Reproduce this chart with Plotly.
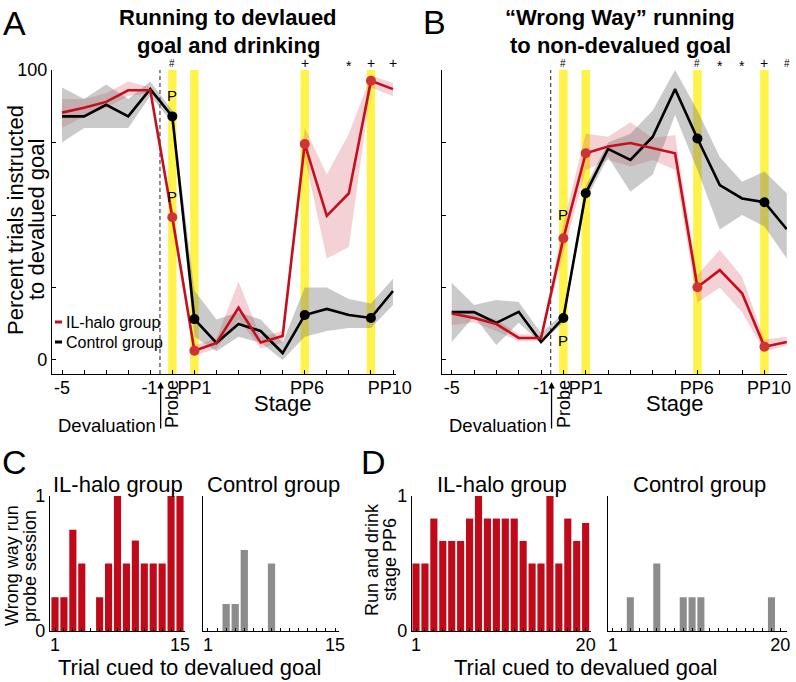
import plotly.graph_objects as go

W, H = 796, 682
FONT = "Liberation Sans, Arial, Helvetica, sans-serif"


def fx(px):
    return px / W


def fy(py):
    return 1 - py / H


# ---------------- data ----------------
stage_idx = list(range(16))          # -5..-1, Probe, PP1..PP10(+1)
highlight_idx = [5, 6, 11, 14]       # Probe, PP1, PP6, PP10 (yellow bars / dots)

# Panel A: running to devalued goal and drinking (percent)
a_ctrl = [84, 84, 88, 84, 93.4, 84, 14.1, 5.9, 12.4, 10, 2.4, 15.5, 17.6, 15.5, 14.5, 23.8]
a_ctrl_hi = [94, 90, 95, 90, 96, 86, 24, 14, 16.5, 14, 6, 25, 25, 21, 19.5, 28]
a_ctrl_lo = [75, 80, 80, 80, 91, 82, 8, 3, 8, 6, 0, 8, 10, 11, 11, 19]
a_il = [85.3, 87, 89, 93, 93, 49.2, 3.2, 5.9, 18, 6, 8.3, 74.5, 49.7, 57.5, 96.3, 93.4]
a_il_hi = [90, 90, 92, 96, 94, 52, 5, 7.5, 27, 8, 10, 80, 64, 78, 98, 95.5]
a_il_lo = [80, 84, 87, 91, 92, 46, 1.5, 4, 14, 4, 6, 70, 35, 39, 94, 91]

# Panel B: wrong way running to non-devalued goal (percent)
b_ctrl = [16.5, 16.5, 12.8, 16.6, 6.2, 14.5, 57.5, 72.8, 69, 77, 93.4, 76.4, 60.3, 55.7, 54.4, 45.1]
b_ctrl_hi = [26.6, 19, 20.7, 20, 9.3, 16, 60, 75, 78, 86, 100, 86, 70, 61.5, 65, 57.5]
b_ctrl_lo = [6.2, 15, 5.2, 12.8, 5.8, 13, 55, 70, 58, 64, 84.5, 65.5, 45, 50, 46, 35]
b_il = [16, 14.5, 12.4, 7.6, 7.6, 42, 71.3, 73.6, 74.8, 73, 71.3, 25.1, 31, 23, 4.6, 6.2]
b_il_hi = [17, 16, 14, 9, 8.5, 47, 78, 77, 82, 76.5, 77.6, 29.3, 38, 28.7, 7, 8]
b_il_lo = [12, 13, 10, 6.5, 6.5, 37, 65.5, 69, 66.7, 69, 65.5, 19.7, 25, 16.5, 3, 5]

# significance symbols above panels (stage index, symbol)
sig_a = [(5, "#"), (11, "+"), (13, "*"), (14, "+"), (15, "+")]
sig_b = [(5, "#"), (11, "#"), (12, "*"), (13, "*"), (14, "+"), (15, "#")]

# tick labels for stage axes
a_ticks = [(0, "-5"), (3.96, "-1"), (6, "PP1"), (11.1, "PP6"), (14.85, "PP10")]
b_ticks = [(0, "-5"), (4.0, "-1"), (6, "PP1"), (10.97, "PP6"), (14.2, "PP10")]

# Panel C: wrong way run, probe session (per trial)
c_trials = list(range(1, 16))
c_il = [0.25, 0.25, 0.75, 0.5, 0, 0.25, 0.5, 1, 0.5, 0.67, 0.5, 0.5, 0.5, 1, 1]
c_ctrl = [0, 0, 0.2, 0.2, 0.6, 0, 0, 0.5, 0, 0, 0, 0, 0, 0, 0]

# Panel D: run and drink, stage PP6 (per trial)
d_trials = list(range(1, 21))
d_il = [0.5, 0.5, 0.833, 0.667, 0.667, 0.667, 0.833, 1, 0.833, 0.833,
        0.833, 0.833, 0.667, 0.5, 0.5, 1, 0.5, 0.833, 0.667, 0.8]
d_ctrl = [0, 0, 0.25, 0, 0, 0.5, 0, 0, 0.25, 0.25, 0.25, 0, 0, 0, 0, 0, 0, 0, 0.25, 0]

# ---------------- style ----------------
RED = "#C4101E"
RED_DOT = "#CF3338"
PINK = "rgba(215, 90, 100, 0.28)"
GRAY = "rgba(115, 115, 115, 0.38)"
YELLOW = "rgba(255, 240, 40, 0.85)"
BAR_RED = "#C00A1A"
BAR_GRAY = "#8C8C8C"

fig = go.Figure()


def add_line_panel(xa, ya, ctrl, ctrl_hi, ctrl_lo, il, il_hi, il_lo):
    xs = stage_idx
    fig.add_trace(go.Scatter(x=xs + xs[::-1], y=il_hi + il_lo[::-1], fill="toself",
                             fillcolor=PINK, line=dict(width=0), mode="lines",
                             hoverinfo="skip", xaxis=xa, yaxis=ya))
    fig.add_trace(go.Scatter(x=xs + xs[::-1], y=ctrl_hi + ctrl_lo[::-1], fill="toself",
                             fillcolor=GRAY, line=dict(width=0), mode="lines",
                             hoverinfo="skip", xaxis=xa, yaxis=ya))
    fig.add_trace(go.Scatter(x=xs, y=ctrl, mode="lines", line=dict(color="black", width=2.6),
                             xaxis=xa, yaxis=ya, name="Control group"))
    fig.add_trace(go.Scatter(x=xs, y=il, mode="lines", line=dict(color=RED, width=2.6),
                             xaxis=xa, yaxis=ya, name="IL-halo group"))
    fig.add_trace(go.Scatter(x=[xs[i] for i in highlight_idx], y=[ctrl[i] for i in highlight_idx],
                             mode="markers", marker=dict(color="black", size=10),
                             xaxis=xa, yaxis=ya))
    fig.add_trace(go.Scatter(x=[xs[i] for i in highlight_idx], y=[il[i] for i in highlight_idx],
                             mode="markers", marker=dict(color=RED_DOT, size=10),
                             xaxis=xa, yaxis=ya))


add_line_panel("x", "y", a_ctrl, a_ctrl_hi, a_ctrl_lo, a_il, a_il_hi, a_il_lo)
add_line_panel("x2", "y2", b_ctrl, b_ctrl_hi, b_ctrl_lo, b_il, b_il_hi, b_il_lo)

fig.add_trace(go.Bar(x=c_trials, y=c_il, width=0.8, marker=dict(color=BAR_RED, line=dict(width=0)),
                     xaxis="x3", yaxis="y3"))
fig.add_trace(go.Bar(x=c_trials, y=c_ctrl, width=0.8, marker=dict(color=BAR_GRAY, line=dict(width=0)),
                     xaxis="x4", yaxis="y4"))
fig.add_trace(go.Bar(x=d_trials, y=d_il, width=0.8, marker=dict(color=BAR_RED, line=dict(width=0)),
                     xaxis="x5", yaxis="y5"))
fig.add_trace(go.Bar(x=d_trials, y=d_ctrl, width=0.8, marker=dict(color=BAR_GRAY, line=dict(width=0)),
                     xaxis="x6", yaxis="y6"))

# ---------------- axes ----------------
base = dict(showline=True, linecolor="black", linewidth=1.3, showgrid=False, zeroline=False,
            automargin=False, ticks="inside", tickcolor="black", tickwidth=1.2, ticklen=4,
            tickfont=dict(family=FONT, size=18, color="black"))


def stage_xaxis(domain, rng, anchor, ticks):
    d = dict(base)
    d.update(domain=domain, range=rng, anchor=anchor, tickmode="array",
             tickvals=[t[0] for t in ticks], ticktext=[t[1] for t in ticks], ticklen=0,
             ticklabelstandoff=-3,
             minor=dict(tickmode="array", tickvals=stage_idx, ticks="inside", ticklen=4,
                        tickcolor="black", tickwidth=1.2, showgrid=False))
    return d


def pct_yaxis(anchor, labels):
    d = dict(base)
    d.update(domain=[fy(374), fy(70)], range=[-4.83, 100], anchor=anchor, tickmode="array",
             tickvals=[0, 25, 50, 75, 100],
             ticktext=["0", "", "", "", "100"] if labels else [""] * 5)
    return d


def trial_xaxis(domain, rng, anchor, n):
    d = dict(base)
    d.update(domain=domain, range=rng, anchor=anchor, tickmode="array",
             tickvals=list(range(1, n + 1)), ticklabelstandoff=-3,
             ticktext=["1"] + [""] * (n - 2) + [str(n)], ticklen=3)
    return d


def frac_yaxis(anchor, labels):
    d = dict(base)
    d.update(domain=[fy(631), fy(496)], range=[0, 1], anchor=anchor, tickmode="array",
             tickvals=[0, 1], ticktext=["0", "1"] if labels else ["", ""], ticklen=3)
    return d


fig.update_layout(
    template="none",
    xaxis=stage_xaxis([fx(52), fx(396)], [-0.453, 15.136], "y", a_ticks),
    yaxis=pct_yaxis("x", True),
    xaxis2=stage_xaxis([fx(442), fx(787)], [-0.434, 15.01], "y2", b_ticks),
    yaxis2=pct_yaxis("x2", False),
    xaxis3=trial_xaxis([fx(50), fx(185)], [0.44, 15.56], "y3", 15),
    yaxis3=frac_yaxis("x3", True),
    xaxis4=trial_xaxis([fx(203), fx(339)], [0.45, 15.44], "y4", 15),
    yaxis4=frac_yaxis("x4", False),
    xaxis5=trial_xaxis([fx(412), fx(591)], [0.55, 20.6], "y5", 20),
    yaxis5=frac_yaxis("x5", True),
    xaxis6=trial_xaxis([fx(608), fx(787)], [0.47, 20.76], "y6", 20),
    yaxis6=frac_yaxis("x6", False),
)

# ---------------- shapes ----------------
shapes = []
for xa, ya_dom, dash_x in (("x", "y domain", 4.44), ("x2", "y2 domain", 4.43)):
    for i in highlight_idx:
        shapes.append(dict(type="rect", xref=xa, yref=ya_dom, x0=i - 0.19, x1=i + 0.19,
                           y0=0, y1=1, fillcolor=YELLOW, line=dict(width=0), layer="below"))
    shapes.append(dict(type="line", xref=xa, yref=ya_dom, x0=dash_x, x1=dash_x, y0=0, y1=1,
                       line=dict(color="#444444", width=1.2, dash="4px,3px"), layer="below"))
# legend swatches
shapes.append(dict(type="line", xref="paper", yref="paper", x0=fx(55), x1=fx(62), y0=fy(322), y1=fy(322),
                   line=dict(color=RED, width=3)))
shapes.append(dict(type="line", xref="paper", yref="paper", x0=fx(55), x1=fx(62), y0=fy(342), y1=fy(342),
                   line=dict(color="black", width=3)))
fig.update_layout(shapes=shapes)

# ---------------- annotations ----------------
ann = []


def txt(x, y, s, size, bold=False, angle=0, xanchor="center", xref="paper", yshift=0):
    ann.append(dict(x=x, y=y, xref=xref, yref="paper", text=("<b>%s</b>" % s) if bold else s,
                    showarrow=False, textangle=angle, xanchor=xanchor, yanchor="middle",
                    yshift=yshift, font=dict(family=FONT, size=size, color="black")))


# panel letters
txt(fx(14), fy(23), "A", 34)
txt(fx(434), fy(22), "B", 34)
txt(fx(14), fy(462), "C", 34)
txt(fx(373), fy(462), "D", 34)

# titles
txt(fx(228), fy(18), "Running to devlaued", 22, bold=True)
txt(fx(228), fy(46), "goal and drinking", 22, bold=True)
txt(fx(620), fy(18), "\u201cWrong Way\u201d running", 22, bold=True)
txt(fx(620), fy(46), "to non-devalued goal", 22, bold=True)

# y title panel A
txt(fx(16), fy(220), "Percent trials instructed", 22, angle=-90)
txt(fx(37), fy(220), "to devalued goal", 22, angle=-90)

# x titles and probe/devaluation labels
for sx, px_probe, px_dev in ((283, 172, 158), (675, 564, 549)):
    txt(fx(sx), fy(403), "Stage", 22)
    txt(fx(px_probe), fy(404), "Probe", 18, angle=-90)
    txt(fx(px_dev), fy(425), "Devaluation", 18.5, xanchor="right")

# devaluation arrows
for xa in ("x", "x2"):
    ann.append(dict(x=4.47, xref=xa, y=fy(382), yref="paper", text="", showarrow=True,
                    ax=0, ay=48, arrowhead=2, arrowsize=1, arrowwidth=1.3, arrowcolor="black"))

# significance symbols
for xa, sig in (("x", sig_a), ("x2", sig_b)):
    for i, s in sig:
        size = 10 if s == "#" else 14
        txt(i, fy(63), s, size, xref=xa, yshift=(-3 if s == "*" else 0))

# probe "P" labels
txt(5, fy(96), "P", 15, xref="x")
txt(5, fy(197), "P", 15, xref="x")
txt(5, fy(215), "P", 15, xref="x2")
txt(5, fy(340), "P", 15, xref="x2")

# legend text
txt(fx(64), fy(322), "IL-halo group", 16, xanchor="left")
txt(fx(64), fy(342), "Control group", 16, xanchor="left")

# bottom panel titles
txt(fx(118), fy(484), "IL-halo group", 22)
txt(fx(273), fy(484), "Control group", 22)
txt(fx(502), fy(484), "IL-halo group", 22)
txt(fx(699), fy(484), "Control group", 22)

# bottom y titles
txt(fx(12), fy(566), "Wrong way run", 18, angle=-90)
txt(fx(30), fy(566), "probe session", 18, angle=-90)
txt(fx(372), fy(560), "Run and drink", 18, angle=-90)
txt(fx(390), fy(560), "stage PP6", 18, angle=-90)

# bottom x titles
txt(fx(189), fy(667), "Trial cued to devalued goal", 22)
txt(fx(585), fy(667), "Trial cued to devalued goal", 22)

fig.update_layout(annotations=ann)

fig.update_layout(width=W, height=H, margin=dict(l=0, r=0, t=0, b=0, pad=0),
                  paper_bgcolor="white", plot_bgcolor="white", showlegend=False,
                  font=dict(family=FONT, color="black"))

fig.write_html("out.html", config={"displayModeBar": False},
               post_script="document.body.style.margin='0px';document.body.style.overflow='hidden';")
